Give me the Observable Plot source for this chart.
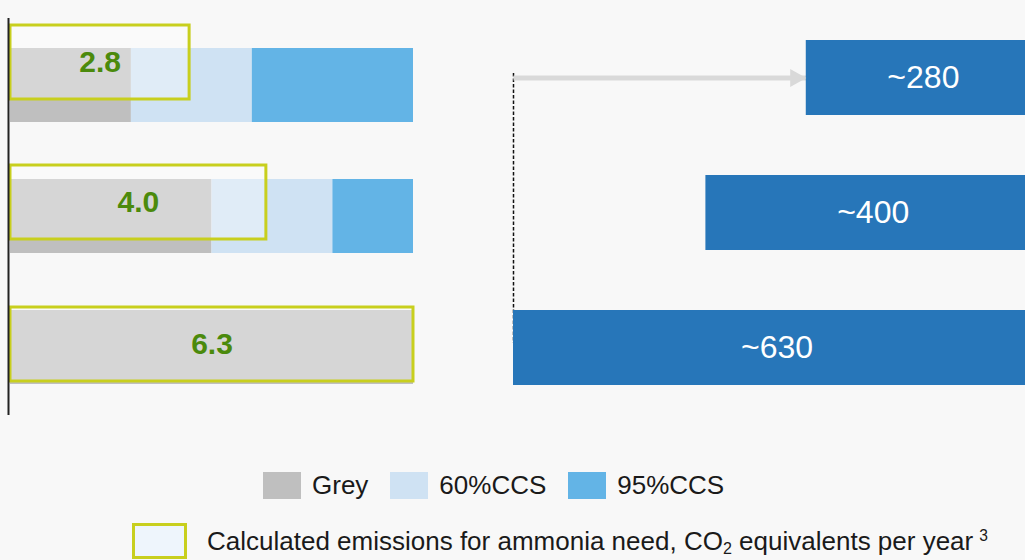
<!DOCTYPE html>
<html>
<head>
<meta charset="utf-8">
<script src="https://cdn.jsdelivr.net/npm/d3@7"></script>
<script src="https://cdn.jsdelivr.net/npm/@observablehq/plot@0.6"></script>
<style>
  html, body { margin: 0; padding: 0; background: #f8f8f8; overflow: hidden; }
  #wrap { position: relative; width: 1025px; height: 560px; overflow: hidden;
          font-family: "Liberation Sans", Arial, sans-serif; color: #1a1a1a; }
  #left { position: absolute; left: 0; top: 0; width: 430px; height: 420px; }
  #right { position: absolute; left: 480px; top: 0; width: 560px; height: 420px; }
  #left svg, #right svg { max-width: none !important; }
  #legend1 { position: absolute; left: 263px; top: 471px; height: 28px;
             display: flex; align-items: center; font-size: 26px; }
  #legend1 .sw { width: 38px; height: 27px; }
  #legend1 .lab { margin-left: 11px; margin-right: 22px; white-space: nowrap; }
  #legend2 { position: absolute; left: 132px; top: 523px; height: 36px;
             display: flex; align-items: center; font-size: 26px; white-space: nowrap; }
  #legend2 .box { width: 55px; height: 36px; box-sizing: border-box;
                  border: 3px solid #c8cf1e; background: #eef5fc; }
  #legend2 .lab { margin-left: 20px; }
  sub { font-size: 0.62em; vertical-align: -0.25em; line-height: 0; }
  sup { font-size: 0.6em; vertical-align: 0.55em; line-height: 0; margin-left: 6px; }
</style>
</head>
<body>
<div id="wrap">
  <div id="left"></div>
  <div id="right"></div>
  <div id="legend1"></div>
  <div id="legend2"></div>
</div>
<script>
// ---- data ----
const scenarios = ["Scenario 1", "Scenario 2", "Scenario 3"];
const types = ["Grey", "60%CCS", "95%CCS"];
const greyShare = [30, 50, 100];      // % of ammonia production
const ccs60Share = [30, 30, 0];
const ccs95Share = [40, 20, 0];
const emissions = [2.8, 4.0, 6.3];    // calculated emissions, CO2 eq per year
const rightValues = [280, 400, 630];
const rightLabels = ["~280", "~400", "~630"];
const typeColors = ["#bfbfbf", "#cfe2f3", "#63b4e6"];

// ---- derived tables ----
const shares = [greyShare, ccs60Share, ccs95Share];
const stackData = scenarios.flatMap((s, i) =>
  types.map((t, j) => ({scenario: s, type: t, share: shares[j][i]})));
const maxE = d3.max(emissions);
const boxData = scenarios.map((s, i) => ({
  scenario: s, emission: emissions[i], extent: emissions[i] / maxE * 100
}));
const rightData = scenarios.map((s, i) => ({scenario: s, value: rightValues[i], label: rightLabels[i]}));
const maxR = d3.max(rightValues);

const font = '"Liberation Sans", Arial, sans-serif';
const boxDy = [-23, -14, -3];

const left = Plot.plot({
  width: 430, height: 420,
  marginLeft: 10, marginRight: 17, marginTop: 18, marginBottom: 5,
  style: {background: "transparent", fontFamily: font, overflow: "visible"},
  x: {domain: [0, 100], axis: null},
  y: {domain: scenarios, axis: null, paddingInner: 0.435, paddingOuter: 0.23},
  color: {domain: types, range: typeColors},
  marks: [
    Plot.barX(stackData, Plot.stackX({x: "share", y: "scenario", fill: "type", order: types})),
    ...boxData.map((d, i) => Plot.barX([d], {
      x1: 0, x2: "extent", y: "scenario", dy: boxDy[i],
      fill: "white", fillOpacity: 0.36, stroke: "#c8cf1e", strokeWidth: 3
    })),
    ...boxData.map((d, i) => Plot.text([d], {
      x: b => b.extent / 2, y: "scenario", dy: boxDy[i],
      text: b => b.emission.toFixed(1),
      fill: "#4b8a0c", fontSize: 30, fontWeight: "bold"
    })),
    Plot.ruleX([0], {stroke: "#222", strokeWidth: 2, dx: -2})
  ]
});
document.getElementById("left").appendChild(left);

const rightArrowHead = {
  draw(ctx, size) {
    const a = Math.sqrt(size / Math.PI);
    ctx.moveTo(0, 0);
    ctx.lineTo(-2.4 * a, -1.35 * a);
    ctx.lineTo(-2.4 * a, 1.35 * a);
    ctx.closePath();
  }
};

const right = Plot.plot({
  width: 560, height: 420,
  marginLeft: 33, marginRight: 0, marginTop: 10, marginBottom: 5,
  style: {background: "transparent", fontFamily: font, overflow: "visible"},
  x: {domain: [0, maxR], reverse: true, axis: null},
  y: {domain: scenarios, axis: null, paddingInner: 0.444, paddingOuter: 0.222},
  marks: [
    Plot.link([rightData[0]], {
      x1: () => maxR, x2: () => maxR, y1: "scenario", y2: () => scenarios[scenarios.length - 1],
      stroke: "#111", strokeWidth: 1.5, strokeDasharray: "3.5,2", dy: -5
    }),
    Plot.link([rightData[0]], {
      x1: () => maxR, x2: "value", y1: "scenario", y2: "scenario",
      stroke: "#d9d9d9", strokeWidth: 5
    }),
    Plot.barX(rightData, {x: "value", y: "scenario", fill: "#2776b9"}),
    Plot.dot([rightData[0]], {
      x: "value", y: "scenario", symbol: rightArrowHead, r: 6.7,
      fill: "#d9d9d9", stroke: "none"
    }),
    Plot.text(rightData, {
      x: d => d.value / 2, y: "scenario", text: "label",
      fill: "white", fontSize: 32
    })
  ]
});
document.getElementById("right").appendChild(right);

// ---- legends ----
const l1 = document.getElementById("legend1");
types.forEach((t, i) => {
  const sw = document.createElement("div");
  sw.className = "sw";
  sw.style.background = typeColors[i];
  const lab = document.createElement("div");
  lab.className = "lab";
  lab.textContent = t;
  l1.appendChild(sw);
  l1.appendChild(lab);
});
const l2 = document.getElementById("legend2");
l2.innerHTML = '<div class="box"></div><div class="lab">Calculated emissions for ammonia need, CO<sub>2</sub> equivalents per year<sup>3</sup></div>';
</script>
</body>
</html>
